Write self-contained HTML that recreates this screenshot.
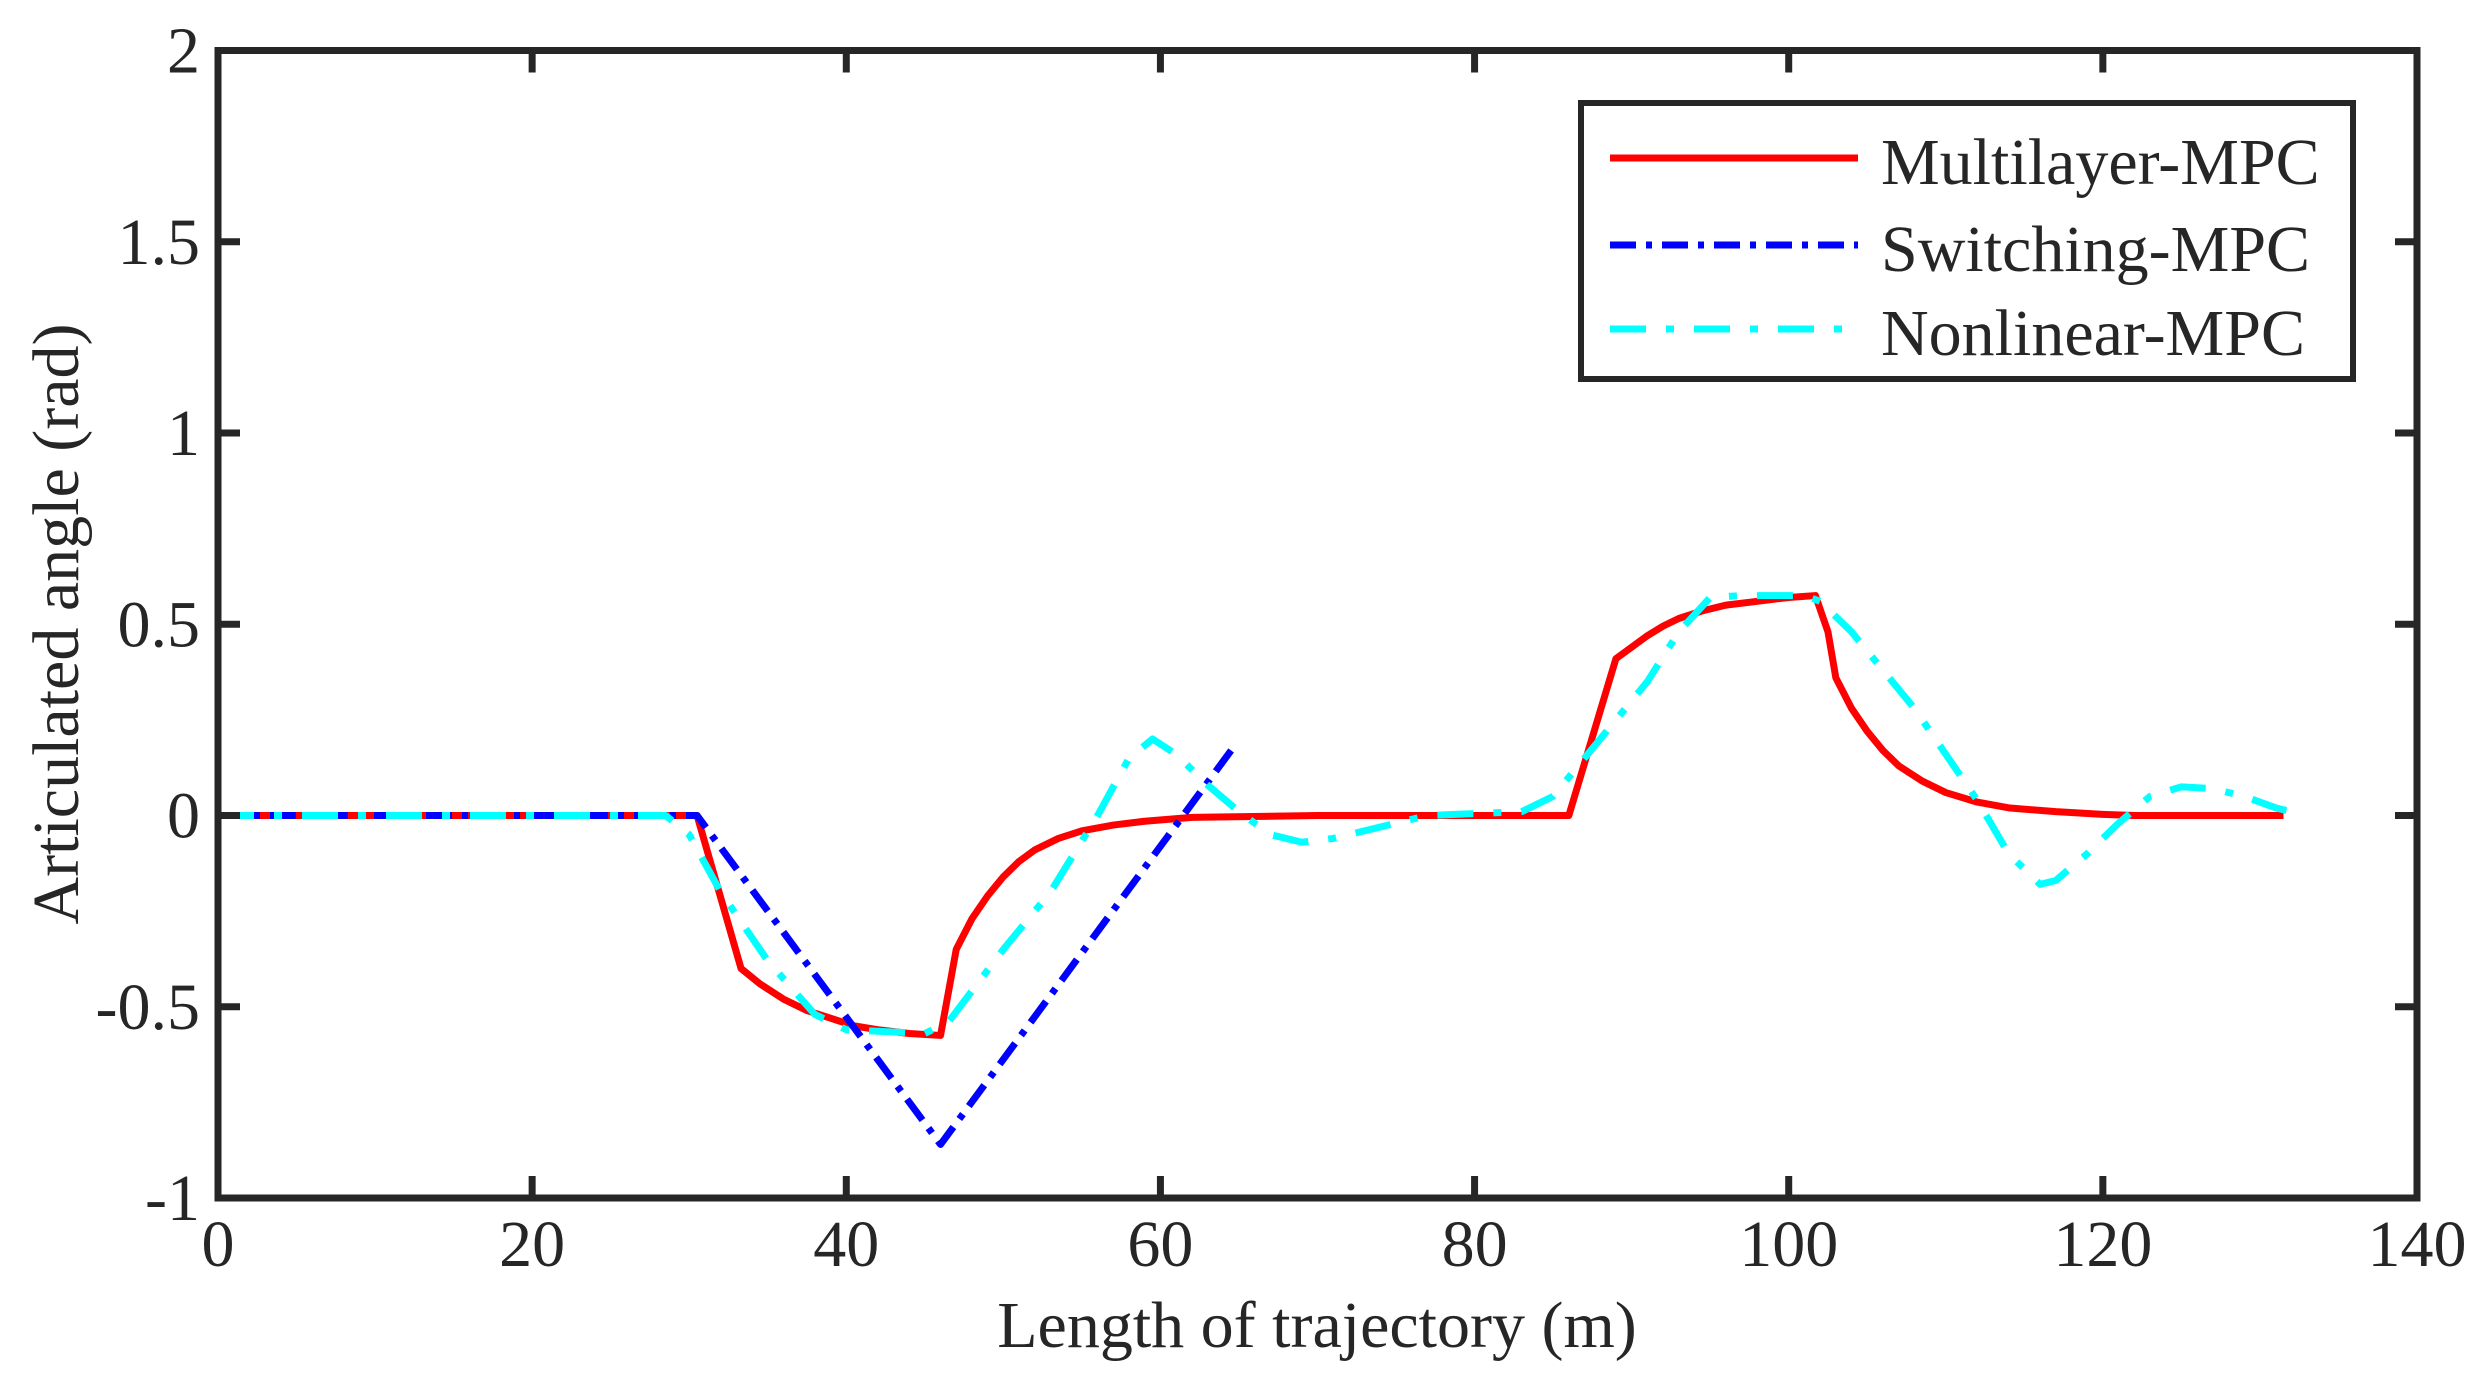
<!DOCTYPE html>
<html><head><meta charset="utf-8"><style>
body{margin:0;background:#fff}
svg{display:block;font-family:"Liberation Serif",serif}
</style></head><body>
<svg id="chart" width="2479" height="1393" viewBox="0 0 2479 1393">
<rect x="0" y="0" width="2479" height="1393" fill="#fff"/>
<g id="series"></g>
<g id="axes"></g>
<g id="legend">
<rect x="1581" y="103" width="772" height="276" fill="#fff" stroke="#262626" stroke-width="6"/>
<line x1="1610" y1="158" x2="1858" y2="158" stroke="#ff0000" stroke-width="7"/>
<text x="1881" y="184" font-size="66" fill="#262626">Multilayer-MPC</text>
<line x1="1610" y1="245" x2="1858" y2="245" stroke="#0000ff" stroke-width="7" stroke-dasharray="26,10,6,10"/>
<text x="1881" y="271" font-size="66" fill="#262626">Switching-MPC</text>
<line x1="1610" y1="329" x2="1858" y2="329" stroke="#00ffff" stroke-width="7" stroke-dasharray="36,20,8,20"/>
<text x="1881" y="355" font-size="66" fill="#262626">Nonlinear-MPC</text>
</g>
<text x="1317" y="1347" font-size="66" text-anchor="middle" fill="#262626">Length of trajectory (m)</text>
<text transform="translate(78,624) rotate(-90)" font-size="66" text-anchor="middle" fill="#262626">Articulated angle (rad)</text>
</svg>
<script>
const xTicks=[0,20,40,60,80,100,120,140];
const yTicks=[-1,-0.5,0,0.5,1,1.5,2];
const yTickLabels=["-1","-0.5","0","0.5","1","1.5","2"];
const redX=[0,30.5,33.3,34.5,36,37.5,39,40.5,42,44,46,47,48,49,50,51,52,53.5,55,57,59,62,70,86,89,90,91,92,93,94.5,96,98,100,101.7,102.5,103,104,105,106,107,108.5,110,112,114,117,120,122,131.5];
const redY=[0,0,-0.4,-0.44,-0.48,-0.51,-0.53,-0.55,-0.56,-0.57,-0.575,-0.35,-0.27,-0.21,-0.16,-0.12,-0.09,-0.06,-0.04,-0.025,-0.015,-0.005,0,0,0.41,0.44,0.47,0.495,0.515,0.535,0.55,0.56,0.57,0.575,0.48,0.36,0.28,0.22,0.17,0.13,0.09,0.06,0.035,0.02,0.01,0.003,0,0];
const blueX=[0,30.5,46,64.5];
const blueY=[0,0,-0.86,0.17];
const cyanX=[0,28.5,30,32,35,38,40,45,46.5,50,53,56,58,59.5,61,63,65,67,69,71,74,77,80,83,85,88,91,93,95,97,101,102,104,106,108,110,112,114,116,117,119,121,123,125,127,129,131,132];
const cyanY=[0,0,-0.05,-0.2,-0.38,-0.52,-0.56,-0.57,-0.54,-0.35,-0.2,0,0.15,0.2,0.16,0.08,0.01,-0.05,-0.07,-0.06,-0.03,0,0.005,0.01,0.05,0.2,0.35,0.48,0.57,0.575,0.575,0.56,0.48,0.38,0.28,0.16,0.04,-0.1,-0.18,-0.17,-0.1,-0.02,0.05,0.075,0.07,0.05,0.02,0.01];
const X0=218,X1=2417,Y0=1198,Y1=50.5;
function sx(v){return X0+(v-0)/(140-0)*(X1-X0);}
function sy(v){return Y0-(v+1)/(2+1)*(Y0-Y1);}
const NS="http://www.w3.org/2000/svg";
const series=document.getElementById('series');
function addLine(xs,ys,color,dash,name){
  const p=document.createElementNS(NS,'polyline');
  p.setAttribute('points',xs.map((x,i)=>sx(x)+','+sy(ys[i])).join(' '));
  p.setAttribute('fill','none');p.setAttribute('stroke',color);p.setAttribute('stroke-width','7');
  p.setAttribute('stroke-linejoin','round');
  if(dash)p.setAttribute('stroke-dasharray',dash);
  
  
  series.appendChild(p);
}
addLine(redX,redY,'#ff0000',null,'multilayer-mpc-line');
addLine(blueX,blueY,'#0000ff','26,10,6,10','switching-mpc-line');
addLine(cyanX,cyanY,'#00ffff','36,20,8,20','nonlinear-mpc-line');
const axes=document.getElementById('axes');
const frame=document.createElementNS(NS,'rect');
frame.setAttribute('x',X0);frame.setAttribute('y',Y1);frame.setAttribute('width',X1-X0);frame.setAttribute('height',Y0-Y1);
frame.setAttribute('fill','none');frame.setAttribute('stroke','#262626');frame.setAttribute('stroke-width','7');


axes.appendChild(frame);
function mk(tag,attrs){const e=document.createElementNS(NS,tag);for(const k in attrs)e.setAttribute(k,attrs[k]);return e;}
xTicks.forEach(v=>{
  const x=sx(v);
  [[Y0,Y0-22],[Y1,Y1+22]].forEach(([a,b])=>{
    const t=mk('line',{x1:x,x2:x,y1:a,y2:b,stroke:'#262626','stroke-width':7});
    
    
    axes.appendChild(t);
  });
  const l=mk('text',{x:x,y:1266,'font-size':66,'text-anchor':'middle',fill:'#262626'});
  l.textContent=String(v);
  
  
  axes.appendChild(l);
});
yTicks.forEach((v,i)=>{
  const y=sy(v);
  [[X0,X0+22],[X1,X1-22]].forEach(([a,b])=>{
    const t=mk('line',{x1:a,x2:b,y1:y,y2:y,stroke:'#262626','stroke-width':7});
    
    
    axes.appendChild(t);
  });
  const l=mk('text',{x:200,y:y+22,'font-size':66,'text-anchor':'end',fill:'#262626'});
  l.textContent=yTickLabels[i];
  
  
  axes.appendChild(l);
});
</script>
</body></html>
